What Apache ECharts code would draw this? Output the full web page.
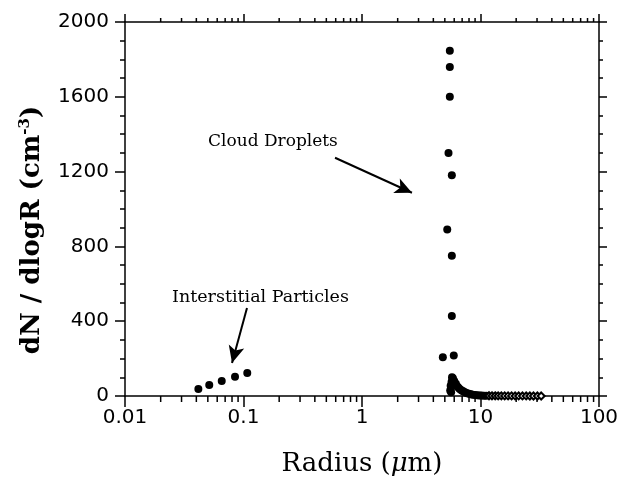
<!DOCTYPE html>
<html>
<head>
<meta charset="utf-8">
<script src="https://cdn.jsdelivr.net/npm/echarts@6/dist/echarts.min.js"></script>
<style>html,body{margin:0;padding:0;background:#fff}#c{width:628px;height:482px}</style>
</head>
<body>
<div id="c"></div>
<script>
// ---- data ----
var interRadius = [0.0416, 0.0514, 0.0655, 0.0848, 0.1076];
var interConc   = [38, 59, 80, 103, 123];

var dropRadius = [5.51, 5.51, 5.51, 5.37, 5.73, 5.24, 5.73, 5.73, 4.81, 5.95,
                  5.55, 5.6, 5.65, 5.7, 5.75, 5.8, 5.85, 5.9, 6.0, 6.1, 6.2, 6.3, 6.45, 6.6,
                  6.8, 7.0, 7.2, 7.45, 7.7, 8.0, 8.3, 8.6, 9.0, 9.4, 9.8, 10.2, 10.7, 11.2];
var dropConc   = [1846, 1760, 1600, 1300, 1180, 890, 750, 428, 207, 216,
                  30, 55, 20, 75, 100, 85, 95, 70, 80, 62, 66, 52, 48, 40,
                  34, 28, 24, 19, 15, 12, 9, 7, 5, 4, 3, 2.5, 2, 1.5];

var tailRadius = [11.8, 12.5, 13.3, 14.1, 15.0, 16.0, 17.1, 18.3, 19.6, 21.0, 22.6, 24.3, 26.1, 28.0, 30.2, 32.5];
var tailConc   = [1.2, 1.0, 0.9, 0.8, 0.7, 0.6, 0.5, 0.5, 0.4, 0.4, 0.3, 0.3, 0.2, 0.2, 0.1, 0.1];

var xTickLabels = ['0.01', '0.1', '1', '10', '100'];
var yTickLabels = ['0', '400', '800', '1200', '1600', '2000'];

// ---- build ----
function zip(a, b) { return a.map(function (v, i) { return [v, b[i]]; }); }
var minorX = [];
[0.01, 0.1, 1, 10].forEach(function (d) { for (var k = 2; k <= 9; k++) minorX.push([+(d * k).toPrecision(3), 0]); });

var chart = echarts.init(document.getElementById('c'), null, {renderer: 'canvas'});
var axisLine = {show: true, onZero: false, lineStyle: {color: '#000', width: 1.5}};
var labelFont = {color: '#000', fontFamily: 'DejaVu Sans', fontSize: 20};

chart.setOption({
  animation: false,
  backgroundColor: '#fff',
  grid: {left: 125, right: 29, top: 22, bottom: 86, containLabel: false},
  xAxis: [{
    type: 'log', logBase: 10, min: 0.01, max: 100, position: 'bottom',
    axisLine: axisLine,
    axisTick: {show: true, inside: false, length: 11, lineStyle: {color: '#000', width: 1.5}},
    minorTick: {show: false},
    splitLine: {show: false},
    axisLabel: Object.assign({margin: 12, formatter: function (v) {
      var i = Math.round(Math.log10(v)) + 2; return xTickLabels[i] || '';
    }}, labelFont)
  }, {
    type: 'log', logBase: 10, min: 0.01, max: 100, position: 'top',
    axisLine: axisLine,
    axisTick: {show: true, inside: false, length: 8, lineStyle: {color: '#000', width: 1.5}},
    splitLine: {show: false}, axisLabel: {show: false}
  }],
  yAxis: [{
    type: 'value', min: 0, max: 2000, interval: 400, position: 'left',
    axisLine: axisLine,
    axisTick: {show: true, inside: false, length: 10, lineStyle: {color: '#000', width: 1.5}},
    minorTick: {show: true, splitNumber: 4, length: 5, lineStyle: {color: '#000', width: 1.5}},
    splitLine: {show: false},
    axisLabel: Object.assign({margin: 16, formatter: function (v) {
      return yTickLabels[Math.round(v / 400)];
    }}, labelFont)
  }, {
    type: 'value', min: 0, max: 2000, interval: 400, position: 'right',
    axisLine: axisLine,
    axisTick: {show: true, inside: false, length: 8, lineStyle: {color: '#000', width: 1.5}},
    minorTick: {show: true, splitNumber: 4, length: 4, lineStyle: {color: '#000', width: 1.5}},
    splitLine: {show: false}, axisLabel: {show: false}
  }],
  series: [{
    type: 'custom', xAxisIndex: 0, yAxisIndex: 0, clip: false, silent: true,
    data: minorX,
    renderItem: function (params, api) {
      var b = api.coord([api.value(0), 0]);
      var t = api.coord([api.value(0), 2000]);
      return {type: 'group', children: [
        {type: 'line', shape: {x1: b[0], y1: b[1], x2: b[0], y2: b[1] + 6}, style: {stroke: '#000', lineWidth: 1.5}},
        {type: 'line', shape: {x1: t[0], y1: t[1], x2: t[0], y2: t[1] - 4}, style: {stroke: '#000', lineWidth: 1.5}}
      ]};
    }
  }, {
    type: 'scatter', symbol: 'circle', symbolSize: 8,
    itemStyle: {color: '#000', opacity: 1},
    data: zip(interRadius, interConc),
    markLine: {
      silent: true, symbol: ['none', 'arrow'], symbolSize: [12, 17], label: {show: false},
      lineStyle: {color: '#000', width: 2, type: 'solid', opacity: 1},
      data: [
        [{coord: [0.107, 471]}, {coord: [0.080, 177]}],
        [{coord: [0.592, 1274]}, {coord: [2.64, 1087]}]
      ]
    }
  }, {
    type: 'scatter', symbol: 'circle', symbolSize: 8,
    itemStyle: {color: '#000', opacity: 1},
    data: zip(dropRadius, dropConc)
  }, {
    type: 'scatter', symbol: 'emptyDiamond', symbolSize: 7,
    itemStyle: {color: '#000', borderColor: '#000', borderWidth: 1.5, opacity: 1},
    data: zip(tailRadius, tailConc)
  }],
  graphic: [
    {type: 'text', x: 208, y: 142, style: {text: 'Cloud Droplets', fontFamily: 'DejaVu Serif', fontSize: 17, fill: '#000', textVerticalAlign: 'middle'}},
    {type: 'text', x: 172, y: 297, style: {text: 'Interstitial Particles', fontFamily: 'DejaVu Serif', fontSize: 17.5, fill: '#000', textVerticalAlign: 'middle'}},
    {type: 'text', x: 362, y: 464, style: {text: '{a|Radius (}{m|\u03bc}{a|m)}', fill: '#000', textAlign: 'center', textVerticalAlign: 'middle',
      rich: {a: {fontFamily: 'DejaVu Serif', fontSize: 26, fill: '#000'},
             m: {fontFamily: 'DejaVu Serif', fontStyle: 'italic', fontSize: 26, fill: '#000'}}}},
    {type: 'text', x: 32, y: 230, rotation: Math.PI / 2,
      style: {text: '{a|dN / dlogR (cm}{s|-3}{a|)}', fill: '#000', textAlign: 'center', textVerticalAlign: 'middle',
        rich: {a: {fontFamily: 'DejaVu Serif', fontWeight: 'bold', fontSize: 26, fill: '#000'},
               s: {fontFamily: 'DejaVu Serif', fontWeight: 'bold', fontSize: 15, fill: '#000', padding: [0, 0, 13, 0]}}}}
  ]
});
</script>
</body>
</html>
